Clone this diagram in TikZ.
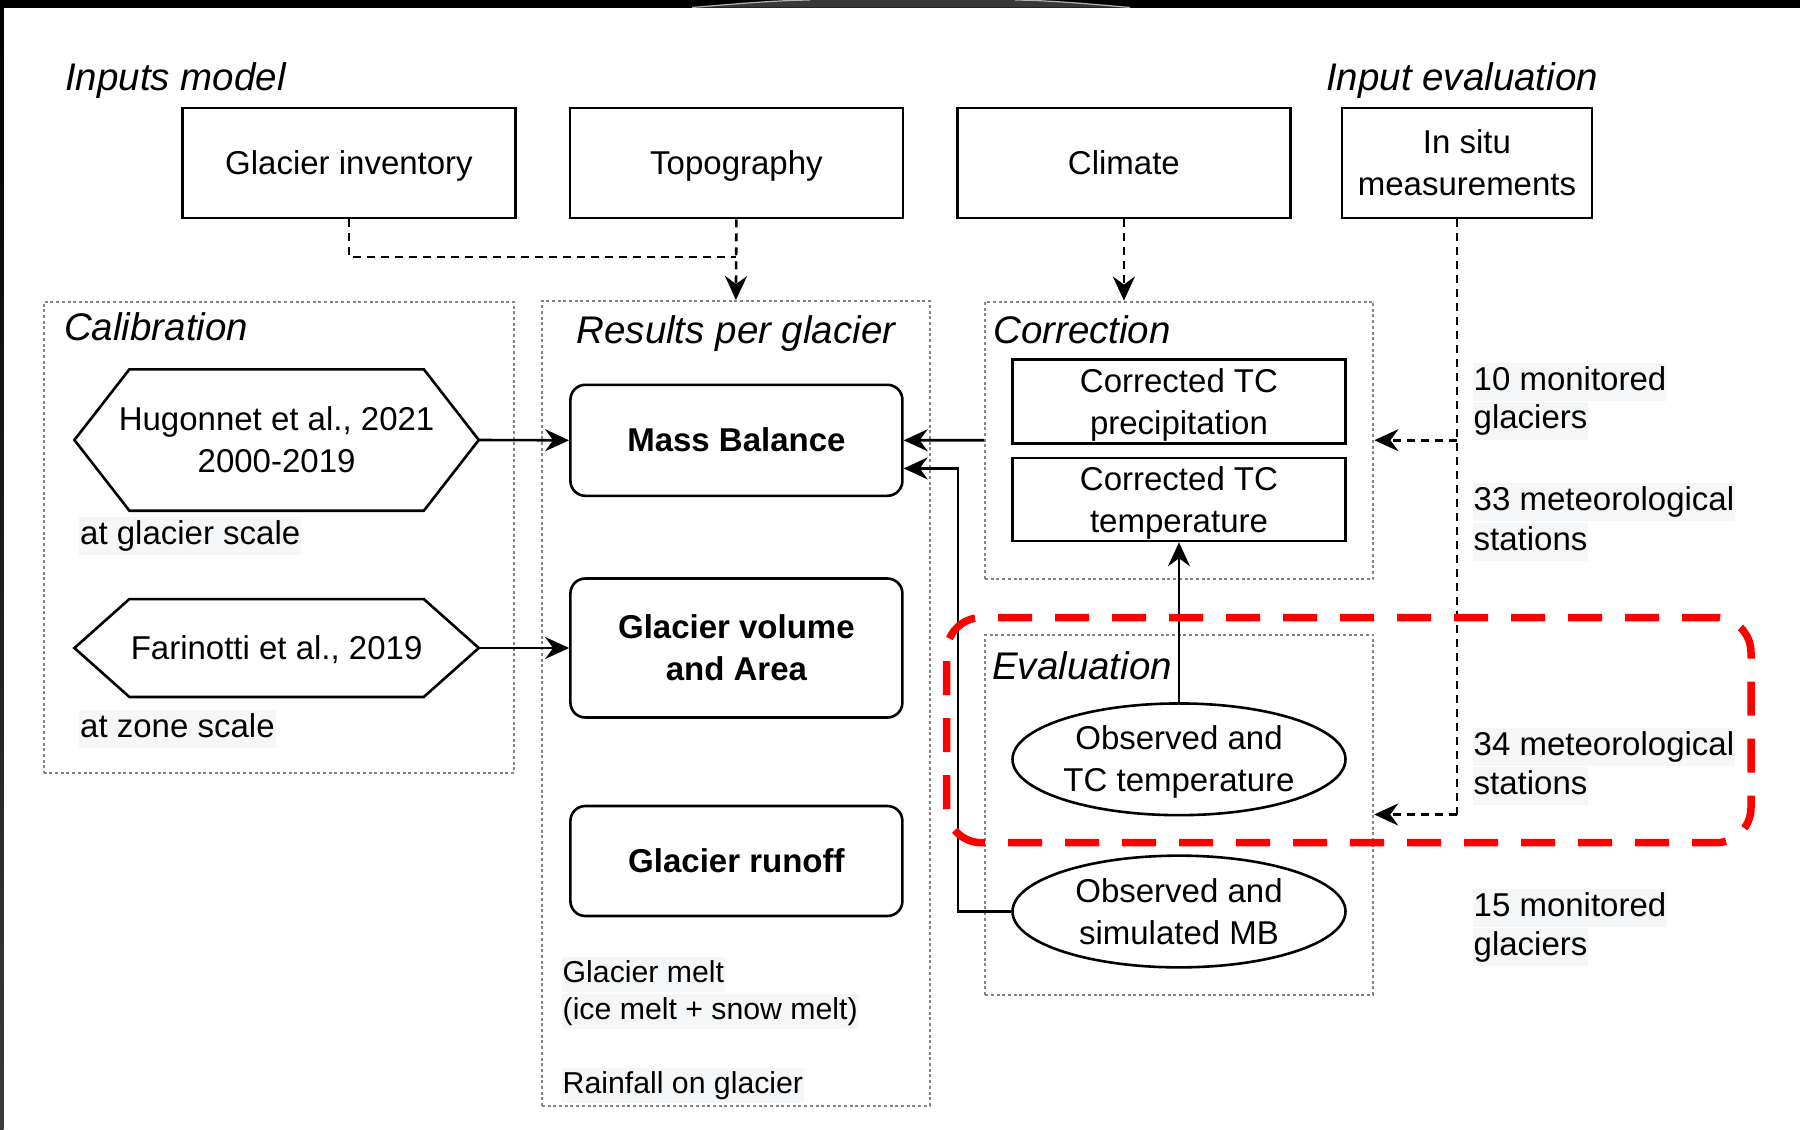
\documentclass[tikz,border=0pt]{standalone}
\usepackage{fontspec}
\setmainfont{Liberation Sans}
\usetikzlibrary{arrows.meta,shapes.geometric,calc}
\definecolor{dotgray}{HTML}{858585}
\definecolor{hl}{HTML}{F5F6F7}
\definecolor{arcgray}{HTML}{383838}
\definecolor{stripgray}{HTML}{3A3A3A}
\newcommand\myfs{\fontsize{33pt}{42pt}\selectfont}
\newcommand\myfsm{\fontsize{30.25pt}{37pt}\selectfont}
\newcommand\myfh{\fontsize{38.5pt}{46pt}\selectfont}
\newcommand\mystrut{\rule[-7pt]{0pt}{37pt}}
\begin{document}
\begin{tikzpicture}[x=1pt,y=-1pt,
  every node/.style={font=\myfs, text=black},
  struts/.style={execute at begin node=\mystrut, execute at end node=\mystrut},
  box/.style={draw, line width=2.6pt, inner sep=0pt, align=center, minimum width=333pt, minimum height=110pt, struts},
  rbox/.style={box, rounded corners=15pt, font=\myfs\bfseries},
  ell/.style={draw, ellipse, line width=2.6pt, inner sep=0pt, align=center, minimum width=333pt, minimum height=110pt, struts},
  cont/.style={draw=dotgray, line width=2pt, dash pattern=on 3pt off 2.7pt, inner sep=0pt},
  hexnode/.style={inner sep=0pt, align=center, minimum width=404pt, struts},
  hexline/.style={line width=2.6pt, line join=miter},
  hdr/.style={font=\myfh\itshape, inner sep=0pt, anchor=base west},
  lbl/.style={fill=hl, anchor=base west, inner xsep=1pt, inner ysep=3pt, text height=24pt, text depth=8pt},
  lbls/.style={lbl, font=\myfsm, text height=22pt, text depth=7pt},
  arrowend/.style={-{Stealth[length=24pt,width=22pt,inset=8pt]}},
  conn/.style={line width=2.6pt, arrowend},
  dconn/.style={line width=2.6pt, dash pattern=on 8pt off 6pt},
]
\useasboundingbox (0,0) rectangle (1800,1130);
\fill[white] (0,0) rectangle (1800,1130);
% screen frame
\fill[black] (0,0) rectangle (1800,7.5);
\fill[arcgray] (692,7.5) .. controls (740,3.5) and (775,0.5) .. (810,0) -- (1015,0) .. controls (1050,0.5) and (1085,3.5) .. (1130,7.5) -- cycle;
\draw[gray!60, line width=1.2pt] (692,7.5) .. controls (740,3.5) and (775,0.5) .. (810,0);
\draw[gray!60, line width=1.2pt] (1015,0) .. controls (1050,0.5) and (1085,3.5) .. (1130,7.5);
\shade[top color=black, bottom color=stripgray] (0,0) rectangle (3.7,1130);

% headings
\node[hdr] (hin) at (65,90) {Inputs model};
\node[hdr] (hev) at (1326,90) {Input evaluation};

% top inputs
\node[box] (gi) at (349,163) {Glacier inventory};
\node[box] (topo) at (736.4,163) {Topography};
\node[box] (clim) at (1123.9,163) {Climate};
\node[box, minimum width=250pt] (insitu) at (1467,163) {\mystrut In situ\\measurements};

% containers
\node[cont, minimum width=470.7pt, minimum height=470.6pt] (calib) at (279,537.3) {};
\node[cont, minimum width=388pt, minimum height=804.5pt] (res) at (735.9,703.3) {};
\node[cont, minimum width=388.4pt, minimum height=277.3pt] (corr) at (1179.2,440.2) {};
\node[cont, minimum width=388pt, minimum height=360pt] (eval) at (1179.2,814.5) {};

\node[hdr] (hcal) at (64,340) {Calibration};
\node[hdr, anchor=base] (hres) at (736,343.5) {Results per glacier};
\node[hdr] (hcor) at (993,343.5) {Correction};
\node[hdr] (heva) at (992,679) {Evaluation};

% calibration hexagons
\node[hexnode, minimum height=141pt] (hug) at (276.6,440) {\mystrut Hugonnet et al., 2021\\2000-2019};
\draw[hexline] (hug.west) -- ([xshift=55pt]hug.north west) -- ([xshift=-55pt]hug.north east) -- (hug.east) -- ([xshift=-55pt]hug.south east) -- ([xshift=55pt]hug.south west) -- cycle;
\node[hexnode, minimum height=97.5pt] (far) at (276.6,648) {Farinotti et al., 2019};
\draw[hexline] (far.west) -- ([xshift=55pt]far.north west) -- ([xshift=-55pt]far.north east) -- (far.east) -- ([xshift=-55pt]far.south east) -- ([xshift=55pt]far.south west) -- cycle;
\node[lbl] (lgs) at (79,544) {at glacier scale};
\node[lbl] (lzs) at (79,737) {at zone scale};

% results
\node[rbox, minimum width=332pt, minimum height=111pt] (mb) at (736.4,440.3) {Mass Balance};
\node[rbox, minimum width=332pt, minimum height=139pt] (gva) at (736.4,648) {\mystrut Glacier volume\\and Area};
\node[rbox, minimum width=332pt, minimum height=110pt] (gr) at (736.4,861) {Glacier runoff};
\node[lbls] (lgm) at (561.5,982) {Glacier melt};
\node[lbls] (lim) at (561.5,1019) {(ice melt + snow melt)};
\node[lbls] (lrf) at (561.5,1093.4) {Rainfall on glacier};

% correction
\node[box, minimum height=83.5pt] (ctp) at (1179,401.5) {\mystrut Corrected TC\\precipitation};
\node[box, minimum height=83pt] (ctt) at (1179,499.5) {\mystrut Corrected TC\\temperature};

% evaluation
\node[ell] (otc) at (1179,759.3) {\mystrut Observed and\\TC temperature};
\node[ell] (omb) at (1179,911.5) {\mystrut Observed and\\simulated MB};

% right labels
\node[lbl] (r1a) at (1472.5,390) {10 monitored};
\node[lbl] (r1b) at (1472.5,428.5) {glaciers};
\node[lbl] (r2a) at (1472.5,510) {33 meteorological};
\node[lbl] (r2b) at (1472.5,550) {stations};
\node[lbl] (r3a) at (1472.5,755) {34 meteorological};
\node[lbl] (r3b) at (1472.5,794) {stations};
\node[lbl] (r4a) at (1472.5,916) {15 monitored};
\node[lbl] (r4b) at (1472.5,955) {glaciers};

% connectors
\coordinate (j1) at (736.4,257);
\draw[dconn] (gi.south) |- (j1);
\draw[dconn, arrowend] (topo.south) -- (res.north);
\draw[dconn, arrowend] (clim.south) -- (clim.south |- corr.north);
\draw[conn] (hug.east) -- (mb.west);
\draw[conn] (far.east) -- (gva.west);
\draw[conn] (corr.west) -- (mb.east);
\coordinate (k1) at (958,468.4);
\draw[conn] (omb.west) -| (k1) -- (mb.east |- k1);
\draw[conn] (otc.north) -- (ctt.south);
\coordinate (d1) at (1457,440.2);
\coordinate (d2) at (1457,814.5);
\draw[dconn] (d1 |- insitu.south) -- (d2);
\draw[dconn, arrowend] (d1) -- (corr.east);
\draw[dconn, arrowend] (d2) -- (eval.east);

% highlight frame
\node[draw=red, line width=7.5pt, dash pattern=on 34pt off 23pt, rounded corners=35pt, minimum width=804.4pt, minimum height=225.2pt, inner sep=0pt] (focus) at (1348.8,730.1) {};
\end{tikzpicture}
\end{document}
